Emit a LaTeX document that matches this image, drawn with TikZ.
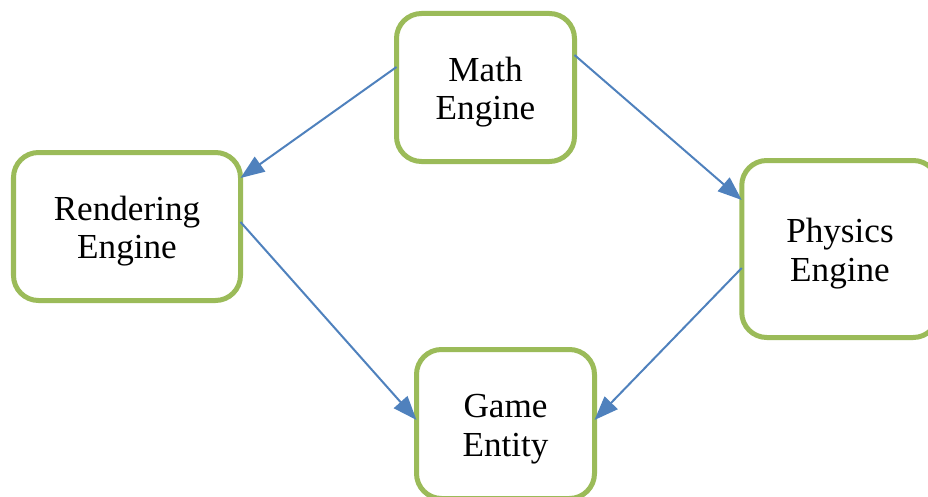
\documentclass[tikz,border=0pt]{standalone}
\usepackage{fontspec}
\setmainfont{Liberation Serif}
\usepackage{tikz}
\usetikzlibrary{arrows.meta}
\definecolor{EngineGreen}{HTML}{9BBB59}
\definecolor{LinkBlue}{HTML}{4F81BD}
\tikzset{
  every node/.style={
    font=\fontsize{20}{21.8}\selectfont
  },
  engine/.style={
    shape=rectangle,
    rounded corners=0.5cm,
    draw=EngineGreen,
    line width=0.1cm,
    fill=white,
    align=center,
    outer sep=0pt,
    text height=1.44cm
  },
  link/.style={
    draw=LinkBlue,
    line width=0.04cm,
    -{Triangle[length=0.48cm,width=0.36cm]}
  }
}

\begin{document}
\begin{tikzpicture}
    \useasboundingbox (0,0) rectangle (18.56,9.92);
    \begin{scope}
    \clip (0,0) rectangle (18.56,9.92);
    \node [engine, minimum width=3.56cm, minimum height=2.96cm] (math) at (9.71,8.17) { Math\\Engine };
    \node [engine, minimum width=4.54cm, minimum height=2.96cm] (render) at (2.54,5.39) { Rendering\\Engine };
    \node [engine, minimum width=3.93cm, minimum height=3.54cm] (physics) at (16.8,4.94) { Physics\\Engine };
    \node [engine, minimum width=3.56cm, minimum height=2.98cm] (entity) at (10.11,1.44) { Game\\Entity };
    \end{scope}
    % dependencies
    \draw [link] ([yshift=0.41cm]math.west) -- ([yshift=0.97cm]render.east);
    \draw [link] ([yshift=0.65cm]math.east) -- ([yshift=0.98cm]physics.west);
    \draw [link] ([yshift=0.09cm]render.east) -- ([yshift=0.08cm]entity.west);
    \draw [link] ([yshift=-0.38cm]physics.west) -- ([yshift=0.08cm]entity.east);
\end{tikzpicture}
\end{document}
